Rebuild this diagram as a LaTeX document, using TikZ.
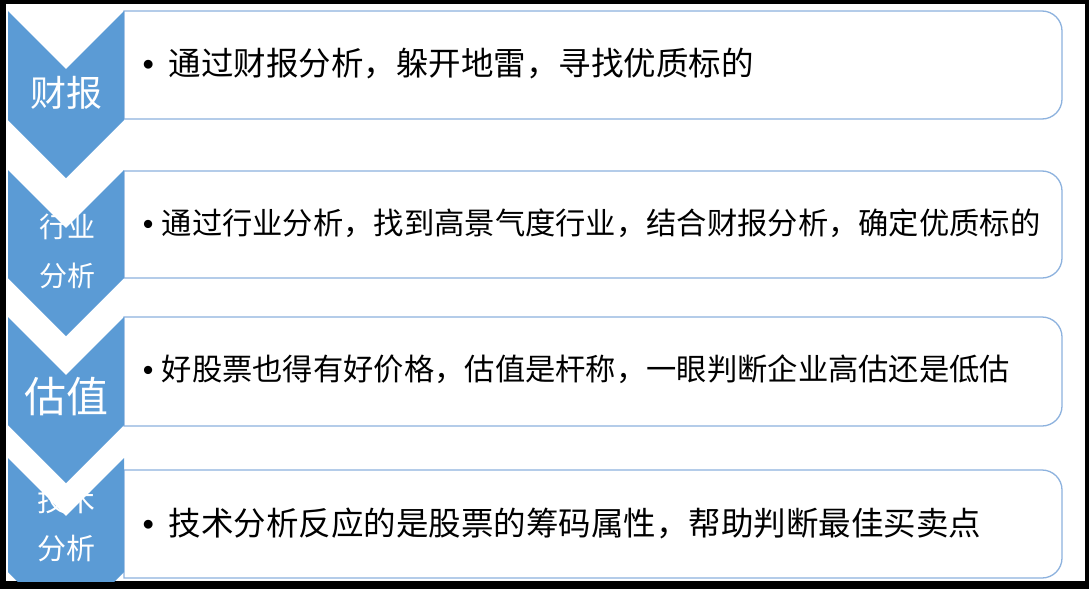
\documentclass[tikz,border=0pt]{standalone}
\usepackage{fontspec}
\setmainfont{Noto Sans CJK SC}
\newfontfamily\bulletfont{Liberation Sans}
\definecolor{chev}{RGB}{91,155,213}
\definecolor{boxline}{RGB}{141,178,222}
\newcommand{\itembullet}{\makebox[16pt][c]{\bulletfont •}}
\tikzset{
  chevron/.style={fill=chev, draw=none},
  listbox/.style={draw=boxline, line width=1.3pt, fill=white},
  labeltext/.style={text=white, inner sep=0pt, anchor=center},
  itemtext/.style={text=black, inner sep=0pt, anchor=west},
}
\begin{document}
\begin{tikzpicture}[x=1pt,y=-1pt]
\useasboundingbox (0,0) rectangle (1089,589);
\fill[black] (0,0) rectangle (1089,589);
\fill[white] (6,4) rectangle (1085,581);
\begin{scope}
\clip (6,4) rectangle (1085,581);
% list boxes (rounded on the right side only)
\foreach \t/\b in {11/119, 171/278, 317/426, 470/578}{
  \draw[listbox] (124,\t) -- (1042,\t)
    .. controls (1053,\t) and (1062,\t+9) .. (1062,\t+20)
    -- (1062,\b-20)
    .. controls (1062,\b-9) and (1053,\b) .. (1042,\b)
    -- (124,\b) -- cycle;
}
% chevrons
\foreach \t/\b in {11/120, 170/278, 317/425, 458/572}{
  \fill[chevron] (8,\t) -- (66,\t+58) -- (124,\t) -- (124,\b) -- (66,\b+58) -- (8,\b) -- cycle;
}
% chevron labels
\node[labeltext, font=\fontsize{36}{40}\selectfont] (l1) at (66,93) {财报};
\node[labeltext, font=\fontsize{28}{32}\selectfont] (l2a) at (67,227) {行业};
\node[labeltext, font=\fontsize{28}{32}\selectfont] (l2b) at (67,276) {分析};
\node[labeltext, font=\fontsize{42}{46}\selectfont] (l3) at (66,397) {估值};
\node[labeltext, font=\fontsize{29}{33}\selectfont] (l4a) at (66,500) {技术};
\node[labeltext, font=\fontsize{29}{33}\selectfont] (l4b) at (66,549) {分析};
% item texts
\node[itemtext, font=\fontsize{32.5}{38}\selectfont] (t1) at (140,64) {\itembullet\hspace{12.5pt}通过财报分析，躲开地雷，寻找优质标的};
\node[itemtext, font=\fontsize{30.3}{36}\selectfont] (t2) at (140,223) {\itembullet\hspace{5.5pt}通过行业分析，找到高景气度行业，结合财报分析，确定优质标的};
\node[itemtext, font=\fontsize{30.3}{36}\selectfont] (t3) at (140,369) {\itembullet\hspace{5.5pt}好股票也得有好价格，估值是杆称，一眼判断企业高估还是低估};
\node[itemtext, font=\fontsize{32.5}{38}\selectfont] (t4) at (140,523) {\itembullet\hspace{12.5pt}技术分析反应的是股票的筹码属性，帮助判断最佳买卖点};
\end{scope}
\end{tikzpicture}
\end{document}
